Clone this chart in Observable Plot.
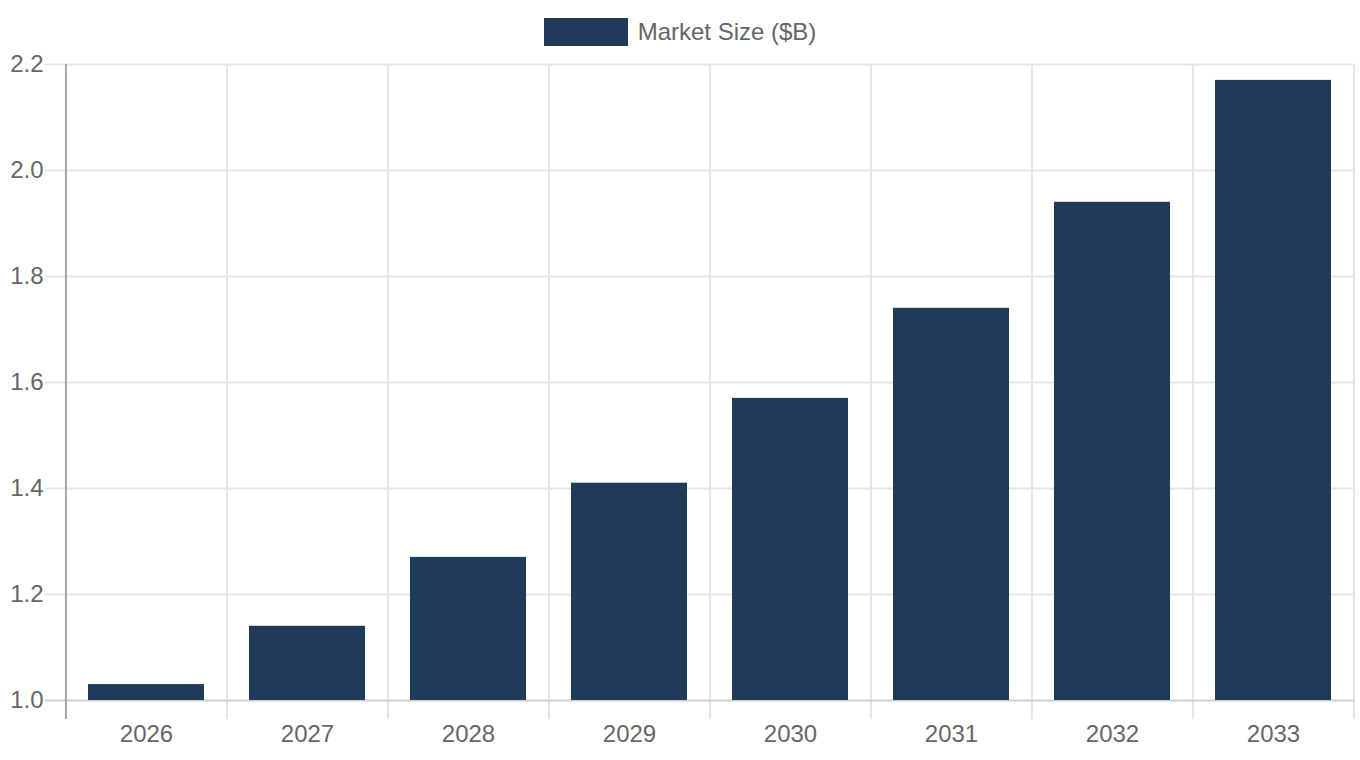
<!DOCTYPE html>
<html>
<head>
<meta charset="utf-8">
<script src="https://cdn.jsdelivr.net/npm/d3@7"></script>
<script src="https://cdn.jsdelivr.net/npm/@observablehq/plot@0.6"></script>
<style>
  html, body { margin: 0; padding: 0; background: #fff; }
  body { width: 1360px; font-family: "Liberation Sans", Arial, sans-serif; }
  #legend { height: 46px; padding-top: 18px; box-sizing: border-box; display: flex; align-items: center; justify-content: center; color: #666; font-size: 24px; }
  #legend .box { width: 84px; height: 28px; margin-right: 10px; box-sizing: border-box; }
  #chart svg { display: block; }
</style>
</head>
<body>
<div id="legend"><span class="box"></span><span class="label"></span></div>
<div id="chart"></div>
<script>
const years = ["2026", "2027", "2028", "2029", "2030", "2031", "2032", "2033"];
const marketSize = [1.03, 1.14, 1.27, 1.41, 1.57, 1.74, 1.94, 2.17];
const yTicks = [1.0, 1.2, 1.4, 1.6, 1.8, 2.0, 2.2];
const seriesName = "Market Size ($B)";
const barColor = "#1f3a5a";

const data = years.map((y, i) => ({year: y, value: marketSize[i]}));

document.querySelector("#legend .box").style.background = barColor;
document.querySelector("#legend .label").textContent = seriesName;

const width = 1360, height = 714;
const marginLeft = 65, marginRight = 6, marginTop = 18, marginBottom = 60;
const step = (width - marginLeft - marginRight) / years.length;
const yMin = yTicks[0], yMax = yTicks[yTicks.length - 1];

const chart = Plot.plot({
  width, height, marginLeft, marginRight, marginTop, marginBottom,
  style: {fontFamily: "'Liberation Sans', Arial, sans-serif", fontSize: "24px", color: "#666", background: "#fff"},
  x: {domain: years, paddingInner: 0.28, paddingOuter: 0.14, label: null},
  y: {domain: [yMin, yMax], label: null},
  marks: [
    // vertical grid at category boundaries
    Plot.ruleX(years, {x: d => d, dx: -step / 2, stroke: "#e5e5e5", strokeWidth: 2, insetBottom: -19}),
    Plot.ruleX([years[years.length - 1]], {x: d => d, dx: step / 2, stroke: "#e5e5e5", strokeWidth: 2, insetBottom: -19}),
    // horizontal grid
    Plot.ruleY(yTicks.slice(1), {y: d => d, stroke: "#e5e5e5", strokeWidth: 2, insetLeft: -20}),
    Plot.ruleY([yMin], {y: d => d, stroke: "#cfcfcf", strokeWidth: 2, insetLeft: -20}),
    // bars
    Plot.barY(data, {x: "year", y1: yMin, y2: "value", fill: barColor}),
    // y axis line
    Plot.ruleX([years[0]], {x: d => d, dx: -step / 2, stroke: "#a6a6a6", strokeWidth: 2, insetBottom: -19}),
    Plot.axisY({ticks: yTicks, tickFormat: d3.format(".1f"), tickSize: 0, tickPadding: 22, fill: "#666"}),
    Plot.axisX({tickSize: 0, tickPadding: 24, fill: "#666"})
  ]
});
document.getElementById("chart").appendChild(chart);
</script>
</body>
</html>
